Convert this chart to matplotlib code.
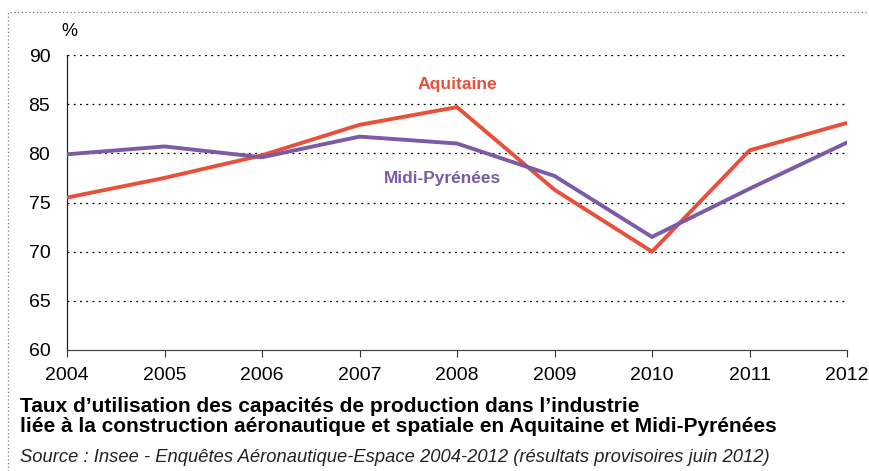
import matplotlib
matplotlib.use("Agg")
import matplotlib.pyplot as plt
from matplotlib.patches import Rectangle
from matplotlib import font_manager

years = [2004, 2005, 2006, 2007, 2008, 2009, 2010, 2011, 2012]
aquitaine = [75.5, 77.5, 79.8, 82.9, 84.7, 76.3, 70.0, 80.3, 83.1]
midi_pyrenees = [79.9, 80.7, 79.6, 81.7, 81.0, 77.7, 71.5, 76.4, 81.1]
yticks = [60, 65, 70, 75, 80, 85, 90]

names = {f.name for f in font_manager.fontManager.ttflist}
narrow = "Liberation Sans Narrow" if "Liberation Sans Narrow" in names else "Liberation Sans"
plt.rcParams['font.family'] = ['Liberation Sans', 'DejaVu Sans']

W, H = 869, 471
fig = plt.figure(figsize=(W / 100, H / 100), dpi=100)
ax = fig.add_axes([67 / W, 1 - 350 / H, (847 - 67) / W, (350 - 55) / H])

red = '#E8503A'
purple = '#7B5AA6'

ax.plot(years, aquitaine, color=red, lw=2.8, solid_joinstyle='miter', zorder=3)
ax.plot(years, midi_pyrenees, color=purple, lw=2.8, solid_joinstyle='miter', zorder=3)

ax.set_xlim(2004, 2012)
ax.set_ylim(60, 90)
ax.set_xticks(years)
ax.set_yticks(yticks)
ax.tick_params(axis='x', direction='out', length=5, width=0.8, labelsize=14, pad=7, color='#333333')
ax.tick_params(axis='y', length=0, labelsize=14, pad=12)
for y in yticks[1:]:
    ax.axhline(y, color='black', lw=0.9, ls=(0, (1.5, 3.5)), zorder=1)
for s in ['top', 'right']:
    ax.spines[s].set_visible(False)
ax.spines['left'].set_color('#222222')
ax.spines['bottom'].set_color('#444444')
ax.spines['left'].set_linewidth(0.9)
ax.spines['bottom'].set_linewidth(0.9)

fig.text(61 / W, 1 - 32 / H, '%', fontsize=13, ha='left', va='center')
ax.text(2008.0, 87.0, 'Aquitaine', color=red, fontsize=12.6, fontweight='bold', ha='center', va='center')
ax.text(2007.85, 77.4, 'Midi-Pyrénées', color=purple, fontsize=12.4, fontweight='bold', ha='center', va='center')

fig.text(20 / W, 1 - 407 / H, "Taux d’utilisation des capacités de production dans l’industrie",
         family=[narrow, 'DejaVu Sans'], fontsize=15, fontweight='bold', ha='left', va='center')
fig.text(20 / W, 1 - 427 / H, "liée à la construction aéronautique et spatiale en Aquitaine et Midi-Pyrénées",
         family=[narrow, 'DejaVu Sans'], fontsize=15, fontweight='bold', ha='left', va='center')
fig.text(20 / W, 1 - 458 / H, "Source : Insee - Enquêtes Aéronautique-Espace 2004-2012 (résultats provisoires juin 2012)",
         family=[narrow, 'DejaVu Sans'], fontsize=13.2, style='italic', ha='left', va='center', color='#222222')

fig.add_artist(Rectangle((8 / W, -0.05), (W + 20) / W, 1 - 12 / H + 0.05, transform=fig.transFigure,
                         fill=False, ec='#777777', lw=0.9, ls=(0, (1, 2))))

fig.savefig('out.png', dpi=100)
